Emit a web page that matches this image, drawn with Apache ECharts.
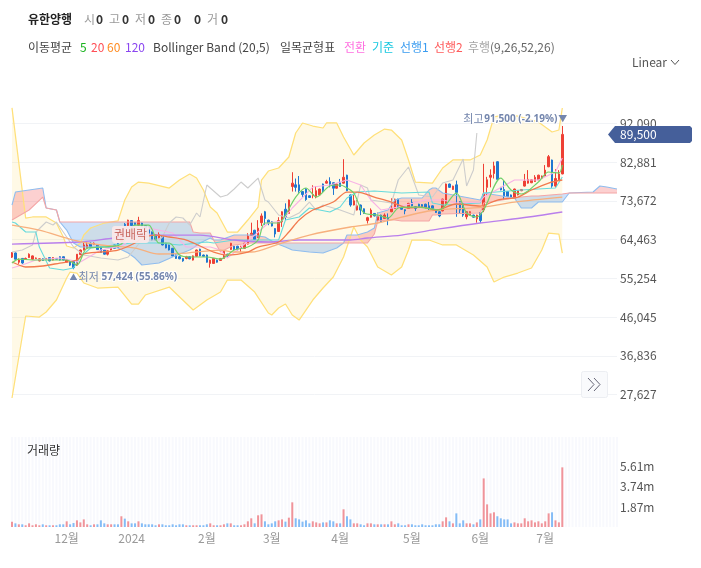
<!DOCTYPE html>
<html>
<head>
<meta charset="utf-8">
<script src="https://cdn.jsdelivr.net/npm/echarts@6/dist/echarts.min.js"></script>
<style>
html, body { margin: 0; padding: 0; background: #fff; }
#chart { width: 701px; height: 568px; }
</style>
</head>
<body>
<div id="chart"></div>
<script>
// x axis: day slots, 162 traded days + 16 empty days the cloud runs into
var slotCount = 178;
var monthTicks = [[16, '12월'], [35, '2024'], [57, '2월'], [76, '3월'], [96, '4월'], [117, '5월'], [137, '6월'], [156, '7월']];

var yTicks = [92090, 82881, 73672, 64463, 55254, 46045, 36836, 27627];
var volTicks = [1.87, 3.74, 5.61];

var open = [60300,61300,59100,60000,59800,60200,59800,60000,59400,59900,59800,60200,59600,60000,60400,60400,59100,59300,59300,58400,
60900,62000,62400,63600,63300,63200,62800,62000,61000,62000,63200,63500,64000,68100,67800,69000,68500,67900,68400,67800,
66800,66300,65600,64900,65200,63600,63200,62400,60800,60400,60000,60000,60400,59600,60500,62200,60800,60800,58800,58800,
59600,59500,60000,61000,62100,62900,62900,62400,62400,63400,65500,66700,65000,68500,71100,69100,68700,67100,66400,68700,
71700,70700,77100,77500,77500,75900,76500,74900,74900,74700,75100,77700,77900,78300,78000,76700,78000,77900,79800,75100,
72700,71500,72700,71800,69000,69800,70700,69100,70300,69500,69700,71100,71900,74100,72300,71600,71900,73300,72300,72900,
72800,72900,72500,72500,71500,71100,71300,73100,77700,76400,77500,73500,73100,69900,70300,70300,69400,70900,71500,76900,
79300,80200,83000,76900,76400,75900,75100,74300,75100,76100,77200,77900,78000,78300,78700,79000,79600,81800,83400,77200,
78700,80100];
var close = [61400,59800,59600,58900,60000,61000,60600,60100,59900,59500,60000,59400,60200,59800,59600,59600,59600,58400,57800,61000,
62000,63200,63200,62800,63600,62100,61400,61000,61800,62800,62400,62600,66500,67800,69100,67800,68000,69000,67700,66600,
66000,64400,64400,65700,63200,62500,62000,60600,60000,59900,59400,60400,59900,60600,62000,60600,60500,59100,59600,60000,
59100,60000,61800,60600,63600,62100,62100,62900,63600,65300,66000,64500,67200,70100,69500,68500,67700,65800,69000,71100,
69800,73900,77900,76900,76100,75200,74000,74500,75200,76100,76500,76100,78300,77500,76700,77700,77100,79300,76100,72700,
73700,72500,71500,70700,69700,71500,70100,69900,68700,70300,69300,71900,74100,72200,71700,71300,73100,72500,71900,72100,
72300,72100,71900,71900,70900,70100,74100,77700,76900,77200,75700,71500,70300,71100,71100,69800,70300,69000,75300,78700,
79800,82000,78800,76300,74700,74700,74500,76500,76100,76400,78400,78800,78700,79300,79800,79600,81000,84200,77200,79000,
80100,89500];
var low = [60100,59700,58700,58700,59700,60100,59700,59900,59300,59400,59700,59300,59500,59700,59500,59500,59000,58200,57424,58200,
60800,61900,62200,62600,63200,62000,61300,60900,60700,61900,62300,62500,63900,67700,67700,67700,67900,67700,67600,66500,
65900,64300,64300,64800,63100,62400,61900,60500,59900,59800,59200,59800,59800,59500,60400,60500,60400,59000,57800,58700,
59000,59400,59900,60400,62000,62000,61800,61500,62300,63300,65400,64400,64900,67700,68000,67900,67600,65000,66300,67500,
69100,70600,75900,75900,75600,74600,73700,74400,74300,74300,75000,75800,77800,76900,75100,76600,77000,77800,76000,72300,
72600,71400,70300,70600,68300,69700,70000,69000,68600,69400,67900,71000,71800,72100,71600,70500,71800,72400,71300,72000,
72200,71900,71500,71800,70800,69800,71200,73000,76800,76300,69900,70700,69900,69300,70200,69700,68500,68400,71000,75000,
76900,79000,78700,76200,73900,74600,74400,74200,75000,76000,77100,77800,77900,78200,78600,78900,79500,81700,76800,76900,
78600,80000];
var high = [61500,61400,60000,60000,60200,61200,60700,60200,60000,60000,60100,60300,60300,60100,60500,60500,59700,59400,59400,61000,
62100,64000,63900,63800,63800,63300,62900,62100,61900,62900,63300,63600,66600,68400,69200,69100,68600,69900,68500,67900,
66900,66400,65700,66200,65300,63700,63300,62500,60900,60600,60100,60600,60500,60700,62100,62300,60900,60900,59700,60100,
59700,60100,61900,61100,63700,63000,63000,63000,63700,66000,68500,66800,69100,70700,71300,69200,68800,67200,69800,71200,
73100,74000,80500,79000,79600,76000,76700,75000,77400,77200,76600,77800,78700,79300,78100,77800,78900,83600,79900,75200,
75100,73900,72800,71900,69900,71900,70800,70900,70400,70700,70700,74300,74200,74200,72400,71700,73200,74100,72400,73000,
72900,73000,73400,72600,71600,71200,74200,77800,77800,77300,78500,73600,73200,71200,71200,70400,70400,71000,82500,79400,
81200,83000,83100,77000,78600,76000,75200,76600,76200,76500,80100,81000,78800,79800,79900,79700,82200,84600,83500,81200,
81000,91500];

// volume in millions of shares
var volume = [0.5,0.34,0.25,0.25,0.16,0.34,0.16,0.25,0.16,0.25,0.16,0.16,0.16,0.16,0.25,0.25,0.53,0.25,0.37,0.62,
0.43,0.71,0.25,0.16,0.25,0.25,0.62,0.34,0.25,0.25,0.25,0.25,1.0,0.78,0.53,0.34,0.34,0.53,0.34,0.25,
0.25,0.25,0.16,0.25,0.25,0.16,0.16,0.25,0.16,0.25,0.25,0.16,0.16,0.16,0.16,0.16,0.16,0.25,0.34,0.16,
0.16,0.16,0.25,0.34,0.34,0.16,0.16,0.16,0.25,0.53,0.81,0.34,1.09,1.18,0.53,0.25,0.34,0.53,0.62,0.71,
0.5,0.87,2.3,0.81,0.71,0.5,0.62,0.34,0.53,0.43,0.34,0.43,0.43,0.62,0.53,0.34,0.34,1.65,1.0,0.71,
0.34,0.34,0.25,0.16,0.34,0.34,0.25,0.25,0.25,0.25,0.25,0.53,0.25,0.34,0.16,0.16,0.25,0.25,0.16,0.16,
0.25,0.16,0.16,0.16,0.25,0.25,0.53,0.9,0.53,0.34,1.27,0.34,0.62,0.34,0.34,0.25,0.43,0.71,4.53,2.11,
1.27,1.37,1.0,0.81,0.71,0.71,0.34,0.43,0.34,0.34,0.81,0.53,0.62,0.43,0.53,0.34,0.53,1.27,1.37,0.62,
0.43,5.56];

// lines as [day slot, price]
var ma5 = [[0,58900],[2,59850],[6,59620],[12,59620],[16,59620],[19,58430],[22,62470],[27,62710],[32,63420],[36,67940],[40,67940],[43,63660],[46,63660],[49,60810],[52,60330],[57,60330],[61,59850],[65,61990],[69,62710],[72,64375],[74,68420],[78,68420],[80,70320],[83,74600],[86,76750],[89,74600],[93,77220],[96,77460],[98,76750],[100,75550],[103,70800],[107,70320],[110,69610],[113,71990],[116,72220],[119,72220],[125,71510],[130,75550],[133,70800],[136,69850],[138,71510],[143,79120],[146,76270],[149,75320],[154,78170],[157,80550],[160,80310],[161,82220]];
var ma20 = [[0,59140],[2,58430],[4,57950],[9,58190],[14,58900],[19,59620],[21,61050],[26,61520],[31,61990],[36,63660],[38,64850],[42,65560],[46,65090],[51,64375],[55,62950],[59,61520],[63,60810],[69,61520],[72,62710],[78,63900],[81,66280],[84,69130],[88,71510],[94,73410],[98,75790],[101,75790],[106,74600],[111,73410],[116,71990],[120,72220],[124,71510],[130,72940],[137,72460],[142,73890],[148,74600],[152,76270],[157,77930],[161,78650]];
var ma60 = [[0,67940],[8,66750],[18,64375],[26,63190],[36,62470],[43,61050],[51,61280],[61,61990],[65,61520],[70,61520],[78,63420],[87,65560],[99,67470],[107,68420],[119,70800],[124,71510],[138,72220],[147,73410],[161,74600]];
var ma120 = [[0,63420],[20,63900],[30,64850],[40,65560],[55,65560],[65,64375],[75,63900],[84,64375],[99,64375],[104,64850],[114,65560],[125,67000],[137,68420],[149,69610],[161,71040]];
var bollUpper = [[0,95800],[4,69600],[6,69850],[10,69850],[13,68420],[15,65090],[16,62950],[18,62470],[20,63660],[21,65560],[23,67230],[27,68420],[31,68900],[33,73890],[35,76980],[37,78170],[40,77930],[46,76740],[49,78650],[52,80070],[54,79120],[56,76270],[58,72220],[60,70800],[63,66280],[66,66280],[69,69130],[72,72220],[73,78650],[75,80790],[78,81500],[81,84120],[83,89830],[85,92210],[88,91490],[91,91020],[92,92210],[95,92210],[97,88880],[100,84600],[103,87450],[106,89350],[109,90780],[111,90540],[114,88165],[116,83410],[118,78170],[123,77930],[126,81500],[129,83410],[134,83410],[137,84600],[139,88170],[141,93640],[144,94110],[148,93870],[154,92450],[158,90070],[160,90540],[161,95780]];
var bollLower = [[0,26790],[4,46300],[8,46060],[10,47250],[13,50100],[16,55340],[17,56760],[19,56520],[21,54150],[25,52960],[31,53190],[35,49150],[37,49150],[39,51290],[46,53190],[53,47720],[57,50100],[61,52000],[63,54860],[67,54860],[71,52000],[75,47010],[76,46530],[78,48200],[80,49150],[82,46530],[84,45340],[88,50100],[91,52960],[94,55570],[97,60330],[100,67470],[102,64375],[104,62710],[107,57950],[111,56050],[114,57950],[116,61990],[117,64375],[122,64375],[126,63190],[130,63190],[135,60810],[139,57950],[141,54380],[144,55570],[148,56520],[152,57710],[155,61990],[157,66040],[160,65800],[161,61280]];
var tenkan = [[0,57710],[3,58430],[7,59620],[14,60090],[20,59140],[26,61990],[32,62950],[38,66280],[40,67230],[47,66040],[51,62710],[58,62710],[61,61990],[63,60090],[66,61990],[75,68420],[79,68900],[82,71990],[88,76980],[93,77460],[98,78650],[102,77460],[105,73890],[108,71510],[113,72220],[121,73890],[126,73890],[130,73180],[137,73410],[138,74600],[147,78650],[154,78650],[159,80550],[161,83880]];
var kijun = [[0,68660],[1,68420],[4,66280],[7,66280],[8,62710],[11,57710],[15,57230],[18,57710],[20,60330],[23,62470],[30,63190],[35,63660],[43,63660],[49,63190],[57,63900],[59,63660],[65,64375],[78,64375],[80,69130],[84,69850],[87,71990],[93,71040],[96,72220],[98,74370],[101,75790],[106,76030],[114,75550],[122,75790],[123,73180],[126,72700],[137,73180],[138,75550],[149,76270],[159,76750],[161,79360]];
var chikou = [[0,61520],[3,61990],[6,63190],[7,66280],[10,68660],[12,67940],[13,68660],[16,65090],[18,62710],[21,60810],[26,60090],[31,59620],[34,60330],[38,64375],[43,64375],[44,65090],[46,68420],[48,69850],[50,69610],[52,67940],[54,70800],[55,69850],[57,77460],[61,74600],[63,75080],[65,76510],[67,78170],[69,76750],[72,79120],[74,73890],[75,73410],[78,70320],[81,69610],[84,70800],[87,73410],[89,71510],[91,72700],[96,71510],[100,70320],[102,77460],[104,76750],[105,73890],[111,73180],[113,78650],[116,81740],[119,75080],[123,74600],[126,77930],[129,78650],[132,83640],[133,77220],[135,81030],[136,89830]];

// ichimoku cloud, both spans on the same day slots
var cloudSlots = [0,1,5,9,10,13,14,16,18,20,26,31,34,36,38,43,47,52,53,55,58,59,61,65,70,74,77,80,82,87,91,95,97,98,101,104,106,107,110,112,114,120,122,123,124,126,137,138,147,149,152,154,161,163,170,172,174,177];
var span1 = [72700,75790,76270,76750,71990,71510,68660,66750,63660,62710,62710,62470,61280,60090,58430,58900,60330,61990,62470,63660,64850,64375,64375,65560,65560,65090,63660,62710,61990,61520,61280,62470,63660,65560,65560,66280,67230,70800,71510,73890,74370,74370,76270,76750,76750,75550,73890,75550,74370,71990,71990,73410,73410,75550,75790,77220,76980,76510];
var span2 = [69130,69610,71510,74600,71990,71510,68660,68660,68660,68660,68660,68660,68660,68660,68660,68660,68660,68660,66280,66040,66040,64375,61520,63190,63660,63660,63660,63660,63660,63660,63660,63660,63660,63660,63660,63660,65800,68900,69130,69130,68900,68900,68900,70320,70320,70560,70800,73180,74370,74600,74840,74840,75320,75550,75550,75550,75550,75550];

var notes = {
    high: { slot: 161, price: 91500, text: '91,500 (-2.19%)' },
    low: { slot: 18, price: 57424, text: '57,424 (55.86%)' },
    last: { price: 89500, text: '89,500' }
};

var RED = '#ee4035', BLUE = '#1f78d1';

var categories = [];
for (var n = 0; n < slotCount; n++) {
    categories.push('');
}
monthTicks.forEach(function (t) { categories[t[0]] = t[1]; });

var candleData = open.map(function (o, i) {
    return [o, close[i], low[i], high[i]];
});
var volumeData = volume.map(function (v, i) {
    return {
        value: v,
        itemStyle: { color: close[i] >= open[i] ? '#f0949a' : '#84bcf6' }
    };
});
while (volumeData.length < slotCount) {
    volumeData.push(null);
}

// runs of cloud segments with the same colour, so no seams show
var cloudRuns = [];
for (var k = 0; k < cloudSlots.length - 1; k++) {
    var up = span1[k] + span1[k + 1] >= span2[k] + span2[k + 1];
    var lastRun = cloudRuns[cloudRuns.length - 1];
    if (lastRun && lastRun.up === up) {
        lastRun.to = k + 1;
    } else {
        cloudRuns.push({ up: up, from: k, to: k + 1 });
    }
}

function lineSeries(name, data, color, width, smooth) {
    return {
        name: name, type: 'line', data: data, z: 4,
        showSymbol: false, smooth: smooth ? 0.3 : false, silent: true,
        lineStyle: { color: color, width: width },
        itemStyle: { color: color }
    };
}

var chart = echarts.init(document.getElementById('chart'), null, { renderer: 'canvas' });

var option = {
    animation: false,
    backgroundColor: '#fff',
    textStyle: { fontFamily: '"Noto Sans CJK KR", "Noto Sans", sans-serif' },
    grid: [
        { left: 12, right: 84, top: 104, height: 296 },
        { left: 12, right: 84, top: 437, height: 90 }
    ],
    xAxis: [
        { type: 'category', gridIndex: 0, data: categories, boundaryGap: false, show: false },
        {
            type: 'category', gridIndex: 1, data: categories, boundaryGap: false,
            axisLine: { show: false }, axisTick: { show: false },
            axisLabel: {
                color: '#999', fontSize: 12, margin: 5,
                interval: function (index, value) { return value !== ''; }
            }
        }
    ],
    yAxis: [
        {
            type: 'value', gridIndex: 0, position: 'right', min: 26319, max: 96729,
            axisLine: { show: false }, axisTick: { show: false, customValues: yTicks },
            axisLabel: {
                customValues: yTicks, color: '#555', fontSize: 12, margin: 3,
                formatter: function (v) { return v.toLocaleString('en-US'); }
            },
            splitLine: { lineStyle: { color: '#f1f3f6', width: 1 } }
        },
        {
            type: 'value', gridIndex: 1, position: 'right', min: 0, max: 8.39,
            axisLine: { show: false }, axisTick: { show: false, customValues: volTicks },
            axisLabel: {
                customValues: volTicks, color: '#555', fontSize: 12, margin: 3,
                formatter: function (v) { return v.toFixed(2) + 'm'; }
            },
            splitLine: { show: false }
        }
    ],
    series: [
        {
            // bollinger fill
            type: 'custom', z: 1, silent: true, data: [[0, bollUpper[0][1]]],
            renderItem: function (params, api) {
                var pts = bollUpper.concat(bollLower.slice().reverse()).map(function (p) {
                    return api.coord(p);
                });
                return { type: 'polygon', shape: { points: pts }, style: { fill: 'rgba(255,224,130,0.2)' } };
            }
        },
        {
            // ichimoku cloud
            type: 'custom', z: 2, silent: true, data: cloudRuns.map(function (r) { return [r.from, span1[r.from]]; }),
            renderItem: function (params, api) {
                var run = cloudRuns[params.dataIndex], top = [], bottom = [];
                for (var j = run.from; j <= run.to; j++) {
                    top.push(api.coord([cloudSlots[j], span1[j]]));
                    bottom.unshift(api.coord([cloudSlots[j], span2[j]]));
                }
                return {
                    type: 'polygon', shape: { points: top.concat(bottom) },
                    style: { fill: run.up ? 'rgba(244,100,100,0.3)' : 'rgba(55,135,240,0.25)' }
                };
            }
        },
        lineSeries('볼린저 상단', bollUpper, '#ffe07a', 1.25),
        lineSeries('볼린저 하단', bollLower, '#ffe07a', 1.25),
        lineSeries('선행1', cloudSlots.map(function (s, i) { return [s, span1[i]]; }), '#8fbdef', 1.1),
        lineSeries('선행2', cloudSlots.map(function (s, i) { return [s, span2[i]]; }), '#f4a6a6', 1.1),
        {
            name: '유한양행', type: 'candlestick', z: 3, silent: true, data: candleData, barWidth: 2,
            itemStyle: { color: RED, color0: BLUE, borderColor: RED, borderColor0: BLUE, borderWidth: 1 }
        },
        lineSeries('후행', chikou, '#cdcdcd', 1.1),
        lineSeries('기준', kijun, '#66dadd', 1.1),
        lineSeries('전환', tenkan, '#f8b2e6', 1.1),
        lineSeries('120', ma120, '#b97fec', 1.3, true),
        lineSeries('60', ma60, '#f7b07e', 1.3, true),
        lineSeries('20', ma20, '#f27a4e', 1.3, true),
        lineSeries('5', ma5, '#6fd06a', 1.2, true),
        {
            name: '거래량', type: 'bar', xAxisIndex: 1, yAxisIndex: 1, data: volumeData,
            barWidth: 2, showBackground: true, silent: true,
            backgroundStyle: { color: '#f8f9fd' }
        }
    ]
};
chart.setOption(option);

// small text blocks of the header and annotations
function label(x, y, text, color, extra) {
    var style = { x: x, y: y, text: text, fill: color, font: '12px "Noto Sans CJK KR", sans-serif', verticalAlign: 'middle' };
    for (var key in extra) { style[key] = extra[key]; }
    return { type: 'text', z: 20, style: style };
}

var headerRow1 = [
    [28, '유한양행', '#222', true], [84, '시', '#999'], [96, '0', '#333', true], [109, '고', '#999'], [122, '0', '#333', true],
    [135, '저', '#999'], [148, '0', '#333', true], [161, '종', '#999'], [174, '0', '#333', true], [194, '0', '#333', true],
    [207, '거', '#999'], [221, '0', '#333', true]
];
var headerRow2 = [
    [28, '이동평균', '#444'], [80, '5', '#19b31e'], [91, '20', '#ff4d55'], [107, '60', '#ff8a1f'], [125, '120', '#8a45f0'],
    [153, 'Bollinger Band (20,5)', '#444'], [280, '일목균형표', '#444'], [344, '전환', '#ff6fe0'], [372, '기준', '#18c8e0'],
    [400, '선행1', '#3a9cf0'], [434, '선행2', '#ff5a5a'], [468, '후행', '#a5a5a5'], [490, '(9,26,52,26)', '#666']
];

var graphics = [];
headerRow1.forEach(function (h) {
    graphics.push(label(h[0], 19, h[1], h[2], h[3] ? { font: 'bold 12px "Noto Sans CJK KR", sans-serif' } : {}));
});
headerRow2.forEach(function (h) {
    graphics.push(label(h[0], 47, h[1], h[2]));
});
graphics.push(label(632, 62, 'Linear', '#555'));
graphics.push({ type: 'polyline', z: 20, shape: { points: [[671, 60], [675, 64.5], [679, 60]] }, style: { stroke: '#555', lineWidth: 1, fill: null } });
graphics.push(label(27, 450, '거래량', '#333'));

// annotations follow the price scale
var hiPos = chart.convertToPixel({ xAxisIndex: 0, yAxisIndex: 0 }, [notes.high.slot, notes.high.price]);
var loPos = chart.convertToPixel({ xAxisIndex: 0, yAxisIndex: 0 }, [notes.low.slot, notes.low.price]);
var lastPos = chart.convertToPixel({ xAxisIndex: 0, yAxisIndex: 0 }, [161, notes.last.price]);
var noteColor = '#7486ad';
graphics.push(label(hiPos[0] + 5, hiPos[1] - 7, '▼', noteColor, { align: 'right', font: '9px "Noto Sans CJK KR", sans-serif' }));
graphics.push(label(hiPos[0] - 5, hiPos[1] - 7, notes.high.text, noteColor, {
    align: 'right', font: 'bold 10px "Noto Sans", sans-serif', stroke: '#fff', lineWidth: 2
}));
graphics.push(label(hiPos[0] - 99, hiPos[1] - 7, '최고', noteColor, { font: '11px "Noto Sans CJK KR", sans-serif' }));
graphics.push(label(loPos[0] - 4, loPos[1] + 8, '▲', noteColor, { font: '8px "Noto Sans CJK KR", sans-serif' }));
graphics.push(label(loPos[0] + 5, loPos[1] + 8, '최저', noteColor, { font: '11px "Noto Sans CJK KR", sans-serif' }));
graphics.push(label(loPos[0] + 28, loPos[1] + 8, notes.low.text, noteColor, {
    font: 'bold 10px "Noto Sans", sans-serif', stroke: '#fff', lineWidth: 2
}));

// 권배락 flag
graphics.push({ type: 'rect', z: 19, shape: { x: 112, y: 226, width: 37, height: 17, r: 3 }, style: { fill: 'rgba(250,232,232,0.93)' } });
graphics.push(label(130.5, 234.5, '권배락', '#c96a62', { align: 'center' }));

// last price tag
var tagY = lastPos[1];
graphics.push({
    type: 'polygon', z: 19,
    shape: { points: [[608, tagY], [615, tagY - 8.5], [690, tagY - 8.5], [692, tagY - 6.5], [692, tagY + 6.5], [690, tagY + 8.5], [615, tagY + 8.5]] },
    style: { fill: '#455f9a' }
});
graphics.push(label(620, tagY, notes.last.text, '#fff'));

// scroll button
graphics.push({ type: 'rect', z: 19, shape: { x: 581.5, y: 371.5, width: 26, height: 26, r: 2 }, style: { fill: '#f9fafc', stroke: '#eceef2', lineWidth: 1 } });
graphics.push({ type: 'polyline', z: 20, shape: { points: [[588, 378], [594, 384.5], [588, 391]] }, style: { stroke: '#667', lineWidth: 1, fill: null } });
graphics.push({ type: 'polyline', z: 20, shape: { points: [[594, 378], [600, 384.5], [594, 391]] }, style: { stroke: '#667', lineWidth: 1, fill: null } });

chart.setOption({ graphic: graphics });
</script>
</body>
</html>
